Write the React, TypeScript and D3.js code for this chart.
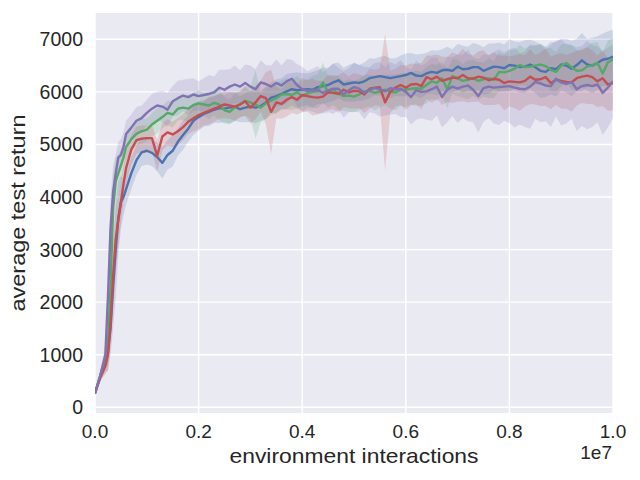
import React from "react";
import * as d3 from "d3";

// environment interactions, in units of 1e5
const interactionsE5 = [
  0, 1, 2, 2.5, 3, 3.5, 4, 4.5, 5, 5.5, 6, 7, 8, 9, 10,
  11, 12, 13, 14, 15, 16, 17, 18, 19, 20, 21, 22, 23, 24, 25, 26, 27, 28, 29, 30,
  31, 32, 33, 34, 35, 36, 37, 38, 39, 40, 41, 42, 43, 44, 45, 46, 47, 48, 49, 50,
  51, 52, 53, 54, 55, 56, 57, 58, 59, 60, 61, 62, 63, 64, 65, 66, 67, 68, 69, 70,
  71, 72, 73, 74, 75, 76, 77, 78, 79, 80, 81, 82, 83, 84, 85, 86, 87, 88, 89, 90,
  91, 92, 93, 94, 95, 96, 97, 98, 99, 100,
];

const blueMean = [
  270, 580, 850, 1050, 1500, 2300, 3000, 3600, 3900, 4000, 4150, 4450, 4700, 4850, 4880,
  4840, 4760, 4650, 4800, 4880, 5050, 5180, 5300, 5450, 5520, 5580, 5620, 5660, 5690, 5680, 5700, 5720, 5670, 5700, 5720,
  5700, 5730, 5800, 5890, 5920, 5960, 6010, 6050, 6030, 6040, 6050, 6040, 6090, 6110, 6130, 6180, 6220, 6140, 6160, 6180,
  6170, 6200, 6260, 6280, 6300, 6280, 6260, 6280, 6300, 6320, 6360, 6310, 6300, 6350, 6380,
  6360, 6410, 6420, 6400, 6480, 6430, 6440, 6470, 6470, 6400, 6440, 6480, 6470, 6450, 6510,
  6500, 6470, 6480, 6520, 6470, 6400, 6380, 6450, 6430, 6520, 6500, 6440, 6510, 6600, 6520,
  6500, 6550, 6610, 6630, 6670,
];
const blueSpread = [
  30, 80, 180, 350, 500, 800, 900, 700, 500, 350, 300, 300, 280, 260, 260,
  250, 270, 300, 280, 300, 260, 280, 250, 270, 260, 240, 270, 250, 280, 260, 300, 270, 250, 280, 290,
  300, 280, 310, 290, 320, 300, 330, 310, 340, 320, 300, 340, 320, 350, 330, 360, 340, 320, 350, 370,
  340, 360, 380, 350, 370, 400, 380, 360, 390, 410, 380, 400, 420, 390, 410,
  420, 400, 440, 410, 430, 450, 420, 460, 430, 450, 480, 440, 470, 450, 490,
  460, 480, 500, 470, 490, 510, 480, 500, 520, 490, 510, 530, 500, 520, 490,
  530, 510, 500, 520, 510,
];

const greenMean = [
  270, 600, 950, 1200, 2300, 3800, 4300, 4450, 4600, 4750, 4950, 5100, 5200, 5250, 5280,
  5380, 5450, 5520, 5600, 5570, 5680, 5700, 5680, 5750, 5780, 5760, 5740, 5790, 5760, 5650, 5620, 5710, 5760, 5830, 5800,
  5760, 5700, 5780, 5830, 5880, 5950, 5960, 5940, 5990, 5920, 5970, 6000, 6010, 6180, 5990, 6040, 5970, 5920, 5930, 5910,
  5950, 6010, 6020, 5980, 6010, 6040, 6000, 5990, 6040, 6040, 6060, 6070, 6060, 6130, 6200,
  6170, 6260, 6050, 6300, 6260, 6210, 6230, 6260, 6210, 6240, 6260, 6230, 6380, 6370, 6400,
  6440, 6510, 6470, 6480, 6500, 6520, 6490, 6420, 6380, 6500, 6550, 6470, 6400, 6410, 6480,
  6510, 6550, 6350, 6560, 6620,
];
const greenSpread = [
  30, 70, 150, 400, 600, 600, 450, 350, 300, 270, 250, 230, 220, 230, 220,
  220, 240, 210, 230, 250, 220, 240, 260, 230, 250, 220, 260, 240, 300, 250, 230, 270, 250, 280, 300,
  650, 280, 300, 260, 290, 270, 300, 280, 310, 290, 270, 300, 320, 380, 300, 290, 320, 280, 310, 300,
  290, 320, 300, 330, 310, 290, 320, 340, 310, 330, 300, 340, 320, 350, 330,
  340, 320, 360, 330, 350, 320, 370, 340, 360, 330, 380, 350, 370, 340, 390,
  360, 380, 350, 400, 370, 390, 360, 410, 380, 400, 370, 420, 390, 400, 380,
  420, 400, 390, 420, 400,
];

const redMean = [
  270, 560, 780, 1000, 1600, 2500, 3200, 3570, 3900, 4250, 4550, 4900, 5080, 5110, 5120,
  5120, 4780, 5150, 5230, 5190, 5250, 5330, 5430, 5500, 5560, 5600, 5640, 5680, 5720, 5760, 5740, 5720, 5760, 5820, 5700,
  5800, 5920, 5880, 5620, 5800, 5770, 5850, 5900, 5850, 5940, 5920, 5900, 5890, 5910, 5990, 5980, 5960, 6040, 5990, 6020,
  6010, 5950, 6060, 6080, 6090, 5800, 6000, 6080, 6130, 6080, 6140, 6150, 6110, 6280, 6240,
  6290, 6210, 6240, 6270, 6260, 6320, 6260, 6250, 6290, 6270, 6220, 6250, 6230, 6170, 6200,
  6190, 6180, 6210, 6290, 6230, 6240, 6280, 6170, 6230, 6210, 6190, 6180, 6260, 6290, 6310,
  6280, 6200, 6260, 6140, 6170,
];
const redSpread = [
  30, 70, 150, 300, 450, 600, 600, 500, 400, 350, 300, 280, 260, 250, 240,
  250, 300, 260, 250, 240, 260, 250, 230, 250, 270, 240, 260, 250, 230, 260, 250, 270, 240, 280, 300,
  320, 300, 500, 800, 300, 280, 320, 300, 280, 330, 300, 350, 320, 300, 340, 310, 360, 330, 300, 340,
  320, 350, 380, 340, 360, 1300, 400, 360, 380, 420, 400, 380, 440, 410, 450,
  420, 460, 430, 480, 450, 500, 460, 440, 480, 520, 470, 500, 460, 520, 480,
  500, 540, 490, 520, 470, 510, 550, 500, 480, 530, 510, 560, 520, 500, 540,
  510, 490, 530, 500, 520,
];

const purpleMean = [
  270, 600, 1000, 2100, 3400, 4100, 4450, 4750, 4800, 4950, 5200, 5320, 5450, 5500, 5600,
  5680, 5740, 5720, 5660, 5820, 5880, 5930, 5900, 5950, 5920, 5940, 5960, 5990, 6080, 6040, 6100, 6140, 6100, 6170, 6100,
  6050, 6180, 6150, 6100, 6170, 6120, 6200, 6250, 6130, 6050, 6020, 6030, 6040, 5980, 6030, 6060, 6060, 5950, 6030, 6090,
  6060, 5980, 6040, 6070, 6050, 6010, 6070, 6050, 6060, 6000, 5900, 6030, 6000, 6010, 6050, 6100,
  5900, 6040, 6100, 6060, 6100, 6120, 6040, 5920, 6070, 6100, 6080, 6090, 6100, 6110,
  6080, 6060, 6050, 6100, 6190, 6160, 6120, 6110, 6250, 6180, 6150, 6190, 6050, 6110, 6130,
  6110, 6140, 5980, 6080, 6200,
];
const purpleSpread = [
  30, 80, 200, 500, 600, 500, 350, 300, 300, 280, 250, 250, 260, 240, 250,
  280, 260, 300, 320, 290, 330, 300, 350, 310, 280, 320, 360, 300, 340, 380, 330, 360, 310, 350, 400,
  380, 420, 360, 400, 450, 380, 420, 360, 400, 430, 370, 410, 450, 390, 420, 480, 400, 440, 420, 470,
  450, 500, 430, 480, 520, 460, 500, 470, 540, 480, 520, 560, 500, 540, 600, 550,
  580, 620, 560, 650, 600, 680, 620, 700, 640, 600, 680, 720, 650, 700,
  760, 680, 720, 800, 700, 740, 680, 780, 720, 820, 750, 700, 800, 760, 840,
  780, 720, 800, 760, 700,
];

const xTickValues = [0, 2e6, 4e6, 6e6, 8e6, 1e7];
const xTickLabels = ["0.0", "0.2", "0.4", "0.6", "0.8", "1.0"];
const yTickValues = [0, 1000, 2000, 3000, 4000, 5000, 6000, 7000];

const seriesList = [
  { name: "blue", color: "#4C72B0", mean: blueMean, spread: blueSpread },
  { name: "green", color: "#55A868", mean: greenMean, spread: greenSpread },
  { name: "red", color: "#C44E52", mean: redMean, spread: redSpread },
  { name: "purple", color: "#8172B2", mean: purpleMean, spread: purpleSpread },
];

export default function App() {
  const W = 640;
  const H = 480;
  const left = 95;
  const right = 613;
  const top = 13;
  const bottom = 413;
  const font = "'Liberation Sans', Arial, Helvetica, sans-serif";
  const textColor = "#262626";

  const x = d3.scaleLinear().domain([0, 1e7]).range([left, right]);
  const y = d3.scaleLinear().domain([-108, 7500]).range([bottom, top]);

  const xOf = (i: number) => x(interactionsE5[i] * 1e5);

  const makeArea = (mean: number[], spread: number[]) =>
    d3
      .area<number>()
      .x((_, i) => xOf(i))
      .y0((v, i) => y(v - spread[i]))
      .y1((v, i) => y(v + spread[i]))(mean) || "";

  const makeLine = (mean: number[]) =>
    d3
      .line<number>()
      .x((_, i) => xOf(i))
      .y((v) => y(v))(mean) || "";

  return (
    <div style={{ position: "fixed", left: 0, top: 0, width: W, height: H, background: "#fff" }}>
      <svg width={W} height={H} viewBox={`0 0 ${W} ${H}`} style={{ display: "block" }}>
        <defs>
          <clipPath id="plotClip">
            <rect x={left} y={top} width={right - left} height={bottom - top} />
          </clipPath>
        </defs>
        <rect x={0} y={0} width={W} height={H} fill="#ffffff" />
        <rect x={left} y={top} width={right - left} height={bottom - top} fill="#EAEAF2" />
        {/* grid */}
        {yTickValues.map((v) => (
          <line key={`gy${v}`} x1={left} x2={right} y1={y(v)} y2={y(v)} stroke="#ffffff" strokeWidth={1.4} />
        ))}
        {xTickValues.map((v) => (
          <line key={`gx${v}`} x1={x(v)} x2={x(v)} y1={top} y2={bottom} stroke="#ffffff" strokeWidth={1.4} />
        ))}
        <g clipPath="url(#plotClip)">
          {seriesList.map((s) => (
            <path key={`a-${s.name}`} d={makeArea(s.mean, s.spread)} fill={s.color} fillOpacity={0.2} stroke="none" />
          ))}
          {seriesList.map((s) => (
            <path
              key={`l-${s.name}`}
              d={makeLine(s.mean)}
              fill="none"
              stroke={s.color}
              strokeWidth={2.4}
              strokeLinejoin="round"
              strokeLinecap="butt"
            />
          ))}
        </g>
        {/* y tick labels */}
        {yTickValues.map((v) => (
          <text
            key={`ty${v}`}
            x={83}
            y={y(v)}
            dy="0.36em"
            textAnchor="end"
            fontFamily={font}
            fontSize={19.5}
            fill={textColor}
          >
            {v}
          </text>
        ))}
        {/* x tick labels */}
        {xTickValues.map((v, i) => (
          <text
            key={`tx${v}`}
            x={x(v)}
            y={438.3}
            textAnchor="middle"
            fontFamily={font}
            fontSize={19}
            fill={textColor}
          >
            {xTickLabels[i]}
          </text>
        ))}
        <text x={612} y={459.3} textAnchor="end" fontFamily={font} fontSize={19} fill={textColor}>
          1e7
        </text>
        <text
          x={(left + right) / 2}
          y={463.3}
          textAnchor="middle"
          fontFamily={font}
          fontSize={21}
          fill={textColor}
          textLength={249}
          lengthAdjust="spacingAndGlyphs"
        >
          environment interactions
        </text>
        <text
          transform={`translate(24.5, ${(top + bottom) / 2}) rotate(-90)`}
          textAnchor="middle"
          fontFamily={font}
          fontSize={21}
          fill={textColor}
          textLength={197}
          lengthAdjust="spacingAndGlyphs"
        >
          average test return
        </text>
      </svg>
    </div>
  );
}
